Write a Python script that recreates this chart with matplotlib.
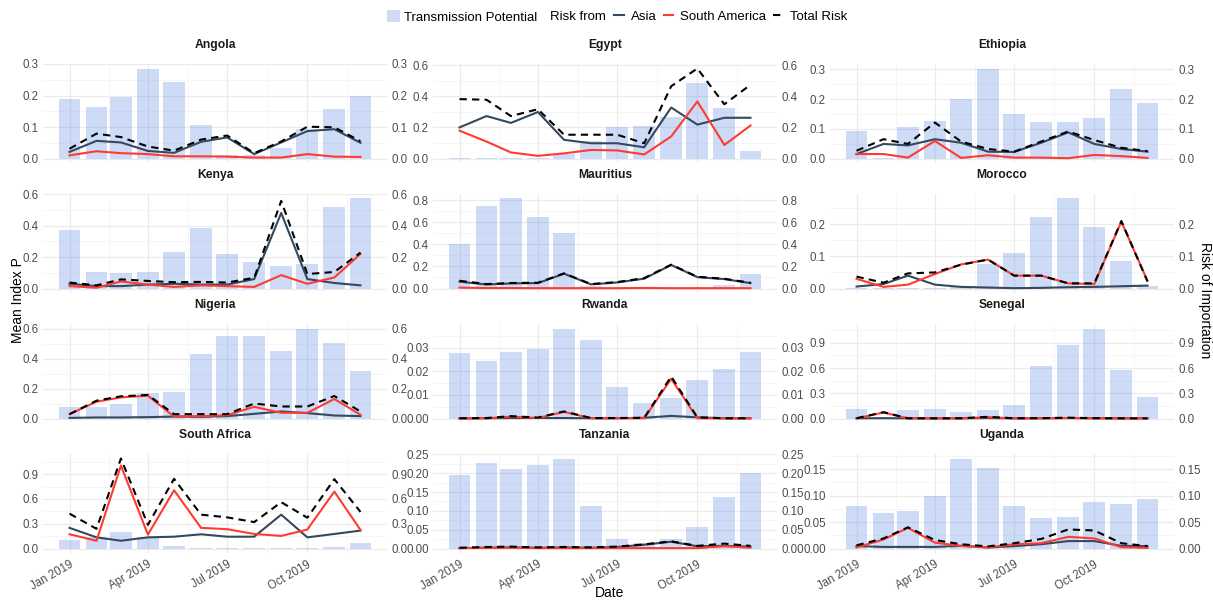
import matplotlib.pyplot as plt
import matplotlib.dates as mdates
from matplotlib.lines import Line2D
from matplotlib.patches import Patch
import numpy as np

plt.rcParams['font.family'] = ['Liberation Sans', 'DejaVu Sans']

months = np.array(['2019-01-01', '2019-02-01', '2019-03-01', '2019-04-01',
                   '2019-05-01', '2019-06-01', '2019-07-01', '2019-08-01',
                   '2019-09-01', '2019-10-01', '2019-11-01', '2019-12-01'],
                  dtype='datetime64[D]')
x_major = np.array(['2019-01-01', '2019-04-01', '2019-07-01', '2019-10-01'],
                   dtype='datetime64[D]')

countries = ['Angola', 'Egypt', 'Ethiopia', 'Kenya', 'Mauritius', 'Morocco',
             'Nigeria', 'Rwanda', 'Senegal', 'South Africa', 'Tanzania', 'Uganda']

# mean transmission potential (bars)
transmission = [
    [0.189, 0.164, 0.196, 0.285, 0.244, 0.107, 0.012, 0.012, 0.033, 0.094, 0.158, 0.200],
    [0.003, 0.003, 0.003, 0.003, 0.028, 0.110, 0.200, 0.207, 0.266, 0.485, 0.325, 0.050],
    [0.094, 0.003, 0.106, 0.127, 0.200, 0.303, 0.150, 0.122, 0.122, 0.137, 0.235, 0.188],
    [0.372, 0.105, 0.100, 0.105, 0.235, 0.385, 0.220, 0.170, 0.140, 0.158, 0.515, 0.572],
    [0.401, 0.751, 0.815, 0.650, 0.505, 0.020, 0.004, 0.010, 0.004, 0.004, 0.030, 0.130],
    [0.003, 0.001, 0.001, 0.003, 0.005, 0.075, 0.112, 0.222, 0.280, 0.190, 0.087, 0.007],
    [0.074, 0.078, 0.098, 0.170, 0.179, 0.427, 0.548, 0.548, 0.447, 0.600, 0.503, 0.320],
    [0.0277, 0.0245, 0.0282, 0.0293, 0.0381, 0.0334, 0.0135, 0.0067, 0.0087, 0.0165, 0.0210, 0.0280],
    [0.115, 0.010, 0.100, 0.115, 0.072, 0.100, 0.160, 0.630, 0.870, 1.070, 0.580, 0.260],
    [0.107, 0.135, 0.205, 0.139, 0.033, 0.008, 0.008, 0.004, 0.008, 0.008, 0.020, 0.061],
    [0.195, 0.227, 0.211, 0.221, 0.239, 0.112, 0.026, 0.014, 0.026, 0.058, 0.136, 0.200],
    [0.081, 0.068, 0.071, 0.100, 0.170, 0.152, 0.081, 0.057, 0.060, 0.087, 0.085, 0.093],
]

risk_asia = [
    [0.021, 0.056, 0.051, 0.024, 0.018, 0.053, 0.067, 0.014, 0.051, 0.087, 0.093, 0.050],
    [0.200, 0.273, 0.229, 0.299, 0.120, 0.098, 0.098, 0.072, 0.328, 0.218, 0.262, 0.262],
    [0.015, 0.049, 0.044, 0.065, 0.053, 0.023, 0.022, 0.053, 0.088, 0.049, 0.032, 0.023],
    [0.030, 0.015, 0.015, 0.025, 0.030, 0.025, 0.025, 0.060, 0.480, 0.060, 0.035, 0.020],
    [0.062, 0.036, 0.046, 0.049, 0.134, 0.037, 0.055, 0.089, 0.213, 0.103, 0.085, 0.049],
    [0.006, 0.014, 0.040, 0.012, 0.005, 0.003, 0.001, 0.002, 0.004, 0.005, 0.007, 0.009],
    [0.004, 0.007, 0.007, 0.009, 0.013, 0.011, 0.016, 0.031, 0.047, 0.036, 0.020, 0.016],
    [0.0000, 0.0001, 0.0002, 0.0002, 0.0002, 0.0001, 0.0001, 0.0003, 0.0011, 0.0005, 0.0001, 0.0001],
    [0.002, 0.004, 0.002, 0.002, 0.002, 0.005, 0.002, 0.003, 0.005, 0.003, 0.002, 0.002],
    [0.250, 0.135, 0.094, 0.135, 0.143, 0.172, 0.143, 0.143, 0.410, 0.135, 0.176, 0.217],
    [0.001, 0.002, 0.003, 0.002, 0.003, 0.002, 0.004, 0.010, 0.018, 0.006, 0.007, 0.005],
    [0.0045, 0.003, 0.003, 0.003, 0.005, 0.002, 0.0045, 0.008, 0.014, 0.014, 0.005, 0.0045],
]

risk_south_america = [
    [0.010, 0.023, 0.017, 0.014, 0.007, 0.007, 0.006, 0.003, 0.003, 0.014, 0.006, 0.005],
    [0.179, 0.109, 0.039, 0.017, 0.033, 0.055, 0.052, 0.026, 0.142, 0.367, 0.087, 0.212],
    [0.015, 0.015, 0.003, 0.059, 0.002, 0.011, 0.003, 0.003, 0.001, 0.012, 0.008, 0.002],
    [0.015, 0.005, 0.045, 0.025, 0.010, 0.020, 0.015, 0.010, 0.085, 0.030, 0.070, 0.220],
    [0.008, 0.004, 0.004, 0.003, 0.003, 0.003, 0.003, 0.005, 0.003, 0.003, 0.003, 0.003],
    [0.030, 0.005, 0.012, 0.045, 0.075, 0.090, 0.040, 0.040, 0.016, 0.014, 0.208, 0.024],
    [0.029, 0.112, 0.141, 0.152, 0.013, 0.016, 0.022, 0.078, 0.038, 0.038, 0.130, 0.025],
    [0.0001, 0.0001, 0.0008, 0.0002, 0.0028, 0.0001, 0.0001, 0.0001, 0.0168, 0.0001, 0.0000, 0.0000],
    [0.001, 0.072, 0.001, 0.001, 0.002, 0.016, 0.001, 0.001, 0.006, 0.001, 0.001, 0.001],
    [0.172, 0.094, 1.004, 0.168, 0.705, 0.250, 0.234, 0.176, 0.152, 0.230, 0.689, 0.225],
    [0.001, 0.002, 0.002, 0.001, 0.001, 0.001, 0.001, 0.001, 0.001, 0.001, 0.006, 0.002],
    [0.002, 0.017, 0.039, 0.011, 0.005, 0.002, 0.008, 0.010, 0.022, 0.019, 0.0025, 0.001],
]

risk_total = [
    [0.031, 0.079, 0.068, 0.038, 0.025, 0.060, 0.073, 0.017, 0.054, 0.101, 0.099, 0.055],
    [0.382, 0.378, 0.273, 0.317, 0.153, 0.153, 0.153, 0.098, 0.465, 0.579, 0.349, 0.474],
    [0.026, 0.065, 0.049, 0.121, 0.057, 0.032, 0.023, 0.057, 0.091, 0.062, 0.036, 0.025],
    [0.038, 0.020, 0.058, 0.048, 0.040, 0.042, 0.038, 0.068, 0.557, 0.092, 0.105, 0.228],
    [0.070, 0.040, 0.050, 0.052, 0.137, 0.040, 0.058, 0.094, 0.216, 0.106, 0.088, 0.052],
    [0.037, 0.018, 0.047, 0.050, 0.074, 0.090, 0.040, 0.040, 0.016, 0.016, 0.210, 0.022],
    [0.029, 0.119, 0.148, 0.157, 0.029, 0.029, 0.029, 0.100, 0.080, 0.080, 0.150, 0.047],
    [0.0001, 0.0002, 0.0010, 0.0004, 0.0030, 0.0002, 0.0002, 0.0003, 0.0178, 0.0005, 0.0001, 0.0001],
    [0.003, 0.075, 0.003, 0.002, 0.003, 0.020, 0.003, 0.004, 0.010, 0.004, 0.002, 0.002],
    [0.422, 0.238, 1.090, 0.287, 0.844, 0.410, 0.377, 0.320, 0.561, 0.373, 0.840, 0.443],
    [0.002, 0.004, 0.005, 0.003, 0.004, 0.003, 0.005, 0.011, 0.019, 0.007, 0.013, 0.007],
    [0.006, 0.019, 0.040, 0.016, 0.008, 0.004, 0.010, 0.018, 0.036, 0.034, 0.010, 0.0045],
]

y_ticks = [
    [0, 0.1, 0.2, 0.3], [0, 0.2, 0.4, 0.6], [0, 0.1, 0.2, 0.3],
    [0, 0.2, 0.4, 0.6], [0, 0.2, 0.4, 0.6, 0.8], [0, 0.1, 0.2],
    [0, 0.2, 0.4, 0.6], [0, 0.01, 0.02, 0.03], [0, 0.3, 0.6, 0.9],
    [0, 0.3, 0.6, 0.9], [0, 0.05, 0.1, 0.15, 0.2, 0.25], [0, 0.05, 0.1, 0.15],
]

BAR_COLOR = '#5f8ae4'
ASIA_COLOR = '#34495e'
SA_COLOR = '#ff3b30'
TEXT_GREY = '#4d4d4d'
DASH = (0, (3.5, 2.5))

W, H = 1213, 600
PW, PH = 344, 99
col_left = [43, 433, 830]
row_top = [64, 194, 324, 454]

fig = plt.figure(figsize=(W / 100, H / 100), dpi=100)
xnum = mdates.date2num(months)
xmaj = mdates.date2num(x_major)

for i, name in enumerate(countries):
    r, c = divmod(i, 3)
    ax = fig.add_axes([col_left[c] / W, 1 - (row_top[r] + PH) / H, PW / W, PH / H])

    ax.bar(xnum, transmission[i], width=25, color=BAR_COLOR, alpha=0.3,
           linewidth=0, zorder=2)
    ax.plot(xnum, risk_asia[i], color=ASIA_COLOR, lw=1.5, zorder=3)
    ax.plot(xnum, risk_south_america[i], color=SA_COLOR, lw=1.5, zorder=4)
    ax.plot(xnum, risk_total[i], color='black', lw=1.5, ls=DASH, zorder=5)

    # free y scale, 5% expansion like ggplot
    top = max(max(transmission[i]), max(risk_asia[i]),
              max(risk_south_america[i]), max(risk_total[i]))
    ax.set_ylim(-0.05 * top, 1.05 * top)
    lo = xnum[0] - 12.5
    hi = xnum[-1] + 12.5
    ax.set_xlim(lo - 0.05 * (hi - lo), hi + 0.05 * (hi - lo))

    ticks = y_ticks[i]
    step = ticks[1] - ticks[0]
    dec = max(1, int(-np.floor(np.log10(step) + 1e-9)))
    ax.set_yticks(ticks)
    ax.set_yticklabels([f'{t:.{dec}f}' for t in ticks])
    minors = [t - step / 2 for t in ticks[1:] + [ticks[-1] + step]]
    ax.set_yticks([m for m in minors if m < 1.05 * top], minor=True)

    ax.set_xticks(xmaj)
    ax.set_xticks(list((xmaj[:-1] + xmaj[1:]) / 2) + [xmaj[-1] + 45.5], minor=True)
    if r == 3:
        ax.set_xticklabels([mdates.num2date(v).strftime('%b %Y') for v in xmaj],
                           rotation=30, ha='right', rotation_mode='anchor')
    else:
        ax.set_xticklabels([])

    ax.grid(which='major', color='#ebebeb', lw=0.9)
    ax.grid(which='minor', color='#f3f3f3', lw=0.5)
    ax.set_axisbelow(True)
    for s in ax.spines.values():
        s.set_visible(False)
    ax.tick_params(which='both', length=0)
    ax.tick_params(axis='y', labelleft=True, labelright=True, labelsize=8.3,
                   labelcolor=TEXT_GREY, pad=3)
    ax.tick_params(axis='x', labelsize=8.3, labelcolor=TEXT_GREY, pad=4)

    ax.text(0.5, 1 + 19 / PH, name, transform=ax.transAxes, ha='center',
            va='center', fontsize=8.7, fontweight='bold', color='#1a1a1a')

fig.text(18 / W, 0.5, 'Mean Index P', rotation=90, ha='center', va='center',
         fontsize=10)
fig.text(1205 / W, 0.5, 'Risk of Importation', rotation=270, ha='center',
         va='center', fontsize=10)
fig.text(610 / W, 1 - 593 / H, 'Date', ha='center', va='center', fontsize=10)

# legend: fill key, then "Risk from" with the three line keys
leg_y = 1 - 17 / H
leg1 = fig.legend([Patch(facecolor=BAR_COLOR, alpha=0.3, edgecolor='none')],
                  ['Transmission Potential'], loc='center right',
                  bbox_to_anchor=(537 / W, leg_y), frameon=False, borderpad=0,
                  borderaxespad=0, handlelength=1.0, handleheight=1.0,
                  handletextpad=0.3, fontsize=9.5)
fig.text(550 / W, leg_y, 'Risk from', ha='left', va='center', fontsize=9.5)
line_handles = [Line2D([], [], color=ASIA_COLOR, lw=1.5),
                Line2D([], [], color=SA_COLOR, lw=1.5),
                Line2D([], [], color='black', lw=1.5, ls=DASH)]
fig.legend(line_handles, ['Asia', 'South America', 'Total Risk'],
           loc='center left', bbox_to_anchor=(614 / W, leg_y), ncol=3,
           frameon=False, borderpad=0, borderaxespad=0, handlelength=0.75,
           handletextpad=0.5, columnspacing=0.55, fontsize=9.5)

fig.savefig('out.png', dpi=100)
